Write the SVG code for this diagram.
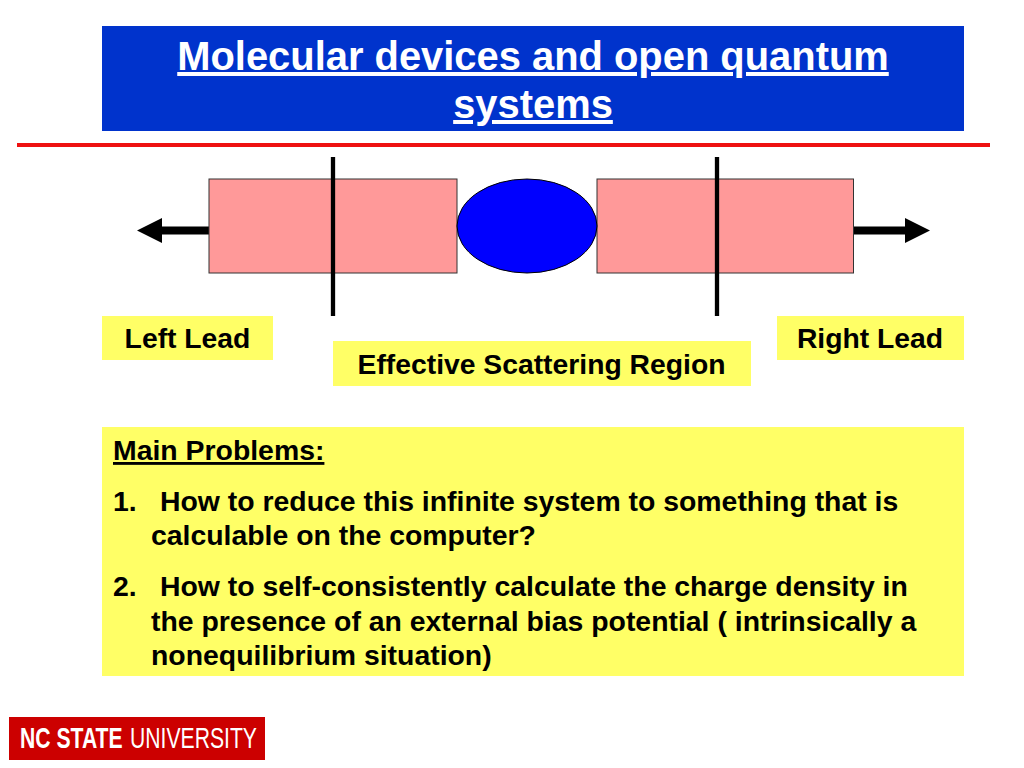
<svg xmlns="http://www.w3.org/2000/svg" width="1024" height="768" viewBox="0 0 1024 768">
<style>
text{font-family:"Liberation Sans",Arial,sans-serif;font-weight:700;fill:#000}
.t{font-size:39.9px;fill:#fff;text-decoration:underline;text-anchor:middle}
.l{font-size:28.4px}
.c{font-size:28.3px;text-anchor:middle}
.box{fill:#ff9999;stroke:#333;stroke-width:1}
.y{fill:#ffff66}
.bar{stroke:#000;stroke-width:4.3;fill:none}
.ar{stroke:#000;stroke-width:8;fill:none}
.logo{font-size:29px;fill:#fff}
</style>
<rect width="1024" height="768" fill="#fff"/>
<g id="title"><rect x="102" y="26" width="862" height="105" fill="#0033cc"/>
<text class="t" x="533" y="70">Molecular devices and open quantum</text><text class="t" x="533" y="118">systems</text></g>
<rect id="rule" x="17" y="143" width="973" height="4" fill="#ee1111"/>
<g id="connectors">
<path class="ar" d="M209 230.5H158M853 230.5H908"/>
<path d="M137 230.5L162 218V243Z M930 230.5L905 218V243Z" fill="#000"/>
</g>
<g id="left-box"><rect class="box" x="209" y="179" width="248" height="94"/></g>
<g id="right-box"><rect class="box" x="597" y="179" width="256.500" height="94"/></g>
<g id="molecule"><ellipse cx="527" cy="226" rx="70" ry="47" fill="#0000ff" stroke="#000"/></g>
<g id="dividers"><path class="bar" d="M333 157V316M717 157V316"/></g>
<g id="left-lead"><rect class="y" x="102" y="316" width="171" height="44"/><text class="c" x="187.500" y="348">Left Lead</text></g>
<g id="right-lead"><rect class="y" x="777" y="316" width="187" height="44"/><text class="c" x="870" y="348">Right Lead</text></g>
<g id="region"><rect class="y" x="333" y="341" width="418" height="45"/><text class="c" x="541.500" y="374">Effective Scattering Region</text></g>
<g id="problems"><rect class="y" x="102" y="427" width="862" height="249"/>
<text class="l" x="113" y="460" text-decoration="underline">Main Problems:</text>
<text class="l" x="113" y="511">1.</text><text class="l" x="160" y="511">How to reduce this infinite system to something that is</text>
<text class="l" x="151" y="545">calculable on the computer?</text>
<text class="l" x="113" y="596">2.</text><text class="l" x="160" y="596">How to self-consistently calculate the charge density in</text>
<text class="l" x="151" y="631">the presence of an external bias potential ( intrinsically a</text>
<text class="l" x="151" y="665">nonequilibrium situation)</text></g>
<g id="logo"><rect x="9" y="717" width="256" height="43" fill="#cc0000"/>
<text class="logo" transform="translate(20 748) scale(.73 1)">NC STATE <tspan dx="2" style="font-weight:400">UNIVERSITY</tspan></text></g>
</svg>
